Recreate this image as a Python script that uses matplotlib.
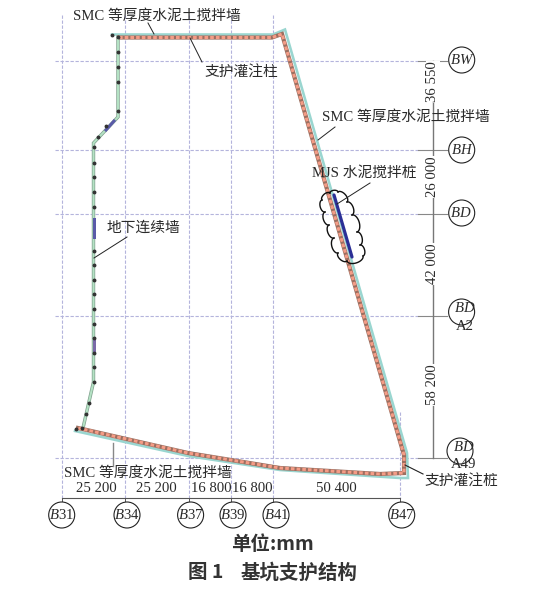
import numpy as np
import matplotlib
matplotlib.use('Agg')
import matplotlib.pyplot as plt
from matplotlib.patches import Circle

plt.rcParams['mathtext.fontset'] = 'custom'
plt.rcParams['mathtext.rm'] = 'Liberation Serif'
plt.rcParams['mathtext.it'] = 'Liberation Serif:italic'

SERIF = ['Liberation Serif', 'Noto Sans CJK SC']
SANS = ['Noto Sans CJK SC', 'DejaVu Sans']

# axis spans in mm, as dimensioned on the drawing
x_spans = [25200, 25200, 16800, 16800, 50400]
x_span_labels = ['25 200', '25 200', '16 800', '16 800', '50 400']
x_names = ['B31', 'B34', 'B37', 'B39', 'B41', 'B47']
y_spans = [36550, 26000, 42000, 58200]
y_span_labels = ['36 550', '26 000', '42 000', '58 200']

# outlines, in image pixels
smc_x = [112, 273, 285, 407, 408, 400, 280, 188, 75]
smc_y = [34.5, 34.5, 29.5, 453, 478, 478, 470, 456, 431]
pile_x = [119, 272, 282, 404, 404, 380, 280, 188, 78]
pile_y = [37.5, 37.5, 34, 455, 473, 474, 468, 453, 428]
dwall_x = [118, 118, 93.5, 93.5, 83]
dwall_y = [37, 117, 143, 382, 428]
dot_x = [112, 118, 118, 118, 118, 118, 98, 106, 93.5, 93.5, 93.5, 93.5, 93.5, 93.5, 93.5, 93.5, 93.5, 93.5,
         93.5, 93.5, 93.5, 93.5, 93.5, 89, 86, 82, 76]
dot_y = [35, 37, 52, 67, 82, 111, 137, 126, 147, 163, 177, 192, 207, 251, 265, 280, 294, 309,
         324, 338, 353, 367, 382, 403, 414, 428, 429]
cloud_x = [338, 347, 352, 357, 360, 363, 347, 338, 334, 329, 325, 322, 330, 338]
cloud_y = [192, 202, 215, 232, 245, 256, 261, 253, 238, 225, 212, 200, 193, 192]

# millimetres to pixels
x0, x_scale = 62, 0.002515
y0, y_scale = 61, 0.00244
grid_x = x0 + np.concatenate([[0], np.cumsum(x_spans)]) * x_scale
grid_y = y0 + np.concatenate([[0], np.cumsum(y_spans)]) * y_scale

fig = plt.figure(figsize=(5.41, 6.02), dpi=100)
ax = fig.add_axes([0, 0, 1, 1])
ax.set_xlim(0, 541)
ax.set_ylim(602, 0)
ax.axis('off')

grid_col = '#b4b4dc'
dim_col = '#555555'
txt_col = '#2a2a2a'
px = 0.72  # one pixel in points

# grid
for i, x in enumerate(grid_x):
    top = 412 if i == 5 else 15
    ax.plot([x, x], [top, 498], color=grid_col, lw=0.8, ls=(0, (3, 1.5)), zorder=1)
    ax.plot([x, x], [498, 503], color=dim_col, lw=0.7, zorder=2)
for y in grid_y:
    ax.plot([55, 418], [y, y], color=grid_col, lw=0.8, ls=(0, (3, 1.5)), zorder=1)
    ax.plot([418, 447], [y, y], color='#888888', lw=0.8, zorder=2)

# dimension lines
ax.plot([grid_x[0], grid_x[-1]], [498, 498], color=dim_col, lw=0.8, zorder=2)
ax.plot([433, 433], [grid_y[0], grid_y[-1]], color='#777777', lw=1.0, zorder=2)

# SMC wall and piles
ax.plot(smc_x, smc_y, color='#9ad6d0', lw=2.6 * px, solid_joinstyle='miter', zorder=3)
ax.plot(pile_x, pile_y, color='#9c6f60', lw=4.2 * px, solid_joinstyle='miter', zorder=4)
ax.plot(pile_x, pile_y, color='#f59c86', lw=3 * px, ls=(0, (1.2, 0.7)), zorder=5)

# diaphragm wall
ax.plot(dwall_x, dwall_y, color='#7f9f8c', lw=3.4 * px, solid_joinstyle='miter', zorder=3)
ax.plot(dwall_x, dwall_y, color='#b4e2c4', lw=2 * px, solid_joinstyle='miter', zorder=4)
ax.plot([93.5, 93.5], [219, 237], color='#5a5aa8', lw=3 * px, zorder=5)
ax.plot([93.5, 93.5], [338, 353], color='#7a6aa8', lw=3 * px, zorder=5)
ax.plot([106, 114], [130, 121], color='#5a5aa8', lw=3 * px, zorder=5)
ax.plot(dot_x, dot_y, ls='none', marker='o', ms=1.8, color='#333333', zorder=6)

# MJS section
ax.plot([334, 352], [195, 257], color='#2b2f96', lw=3.2 * px, solid_capstyle='round', zorder=7)
t = np.linspace(0, np.pi, 20)
for i in range(len(cloud_x) - 1):
    a = np.array([cloud_x[i], cloud_y[i]], dtype=float)
    b = np.array([cloud_x[i + 1], cloud_y[i + 1]], dtype=float)
    r = np.hypot(*(b - a)) / 2
    u = (b - a) / (2 * r)
    n = np.array([u[1], -u[0]])  # outward on the clockwise outline
    arc = (a + b) / 2 - np.outer(r * np.cos(t), u) + np.outer(0.55 * r * np.sin(t), n)
    ax.plot(arc[:, 0], arc[:, 1], color='#111111', lw=1.0, zorder=8)


def note(x, y, s, **kw):
    ax.text(x, y, s, family=SERIF, fontsize=10.6, color=txt_col, ha='center', va='center', zorder=9, **kw)


# labels
note(157, 16, 'SMC 等厚度水泥土搅拌墙')
note(241, 73, '支护灌注柱')
note(406, 117, 'SMC 等厚度水泥土搅拌墙')
note(364, 173, 'MJS 水泥搅拌桩')
note(143, 228, '地下连续墙')
note(148, 473, 'SMC 等厚度水泥土搅拌墙')
note(461, 482, '支护灌注桩')

# leaders
ax.plot([148, 154], [23, 34], color='#222222', lw=0.7, zorder=9)
ax.plot([190, 202], [38, 62], color='#222222', lw=0.7, zorder=9)
ax.plot([335, 318], [127, 140], color='#222222', lw=0.7, zorder=9)
ax.plot([370, 337], [183, 204], color='#222222', lw=0.7, zorder=9)
ax.plot([127, 94], [237, 258], color='#222222', lw=0.7, zorder=9)
ax.plot([113, 113], [443, 466], color='#888888', lw=1.0, zorder=9)
ax.plot([405, 423], [465, 474], color='#222222', lw=0.8, zorder=9)

# span labels
span_cx = [96.5, 156.5, 211, 252, 336]
for cx, lab in zip(span_cx, x_span_labels):
    note(cx, 489, lab)
span_cy = [82, 177, 264, 385]
for cy, lab in zip(span_cy, y_span_labels):
    note(433, cy, lab, rotation=90, bbox=dict(fc='white', ec='none', pad=0.3))

# axis bubbles
bubble_x = [61.7, 127, 190.6, 233, 276, 401.7]
for bx, name in zip(bubble_x, x_names):
    ax.add_patch(Circle((bx, 515), 13, fc='white', ec='#222222', lw=0.8, zorder=8))
    note(bx, 515, r'$\mathit{%s}$%s' % (name[0], name[1:]))

bubble_y = [60, 150, 213, 312, 451]
bubble_rx = [461.7, 461.7, 461.7, 461.6, 460]
bubble_names = ['BW', 'BH', 'BD', 'BD', 'BD']
bubble_tx = [462, 462, 461, 465, 464]
bubble_ty = [60, 150, 213, 308, 447]
for bx, by, name, tx, ty in zip(bubble_rx, bubble_y, bubble_names, bubble_tx, bubble_ty):
    ax.add_patch(Circle((bx, by), 13, fc='white', ec='#222222', lw=0.8, zorder=8))
    note(tx, ty, r'$\mathit{%s}$' % name)
note(465, 326, 'A2')
note(464, 464, 'A49')

# caption
ax.text(272, 545, '单位:mm', family=SANS, fontsize=14, weight='bold', color='#333333', ha='center', va='center')
ax.text(188, 573, '图 1', family=SANS, fontsize=14, weight='bold', color='#333333', ha='left', va='center')
ax.text(299, 573, '基坑支护结构', family=SANS, fontsize=14, weight='bold', color='#333333', ha='center', va='center')

fig.savefig('out.png', dpi=100)
